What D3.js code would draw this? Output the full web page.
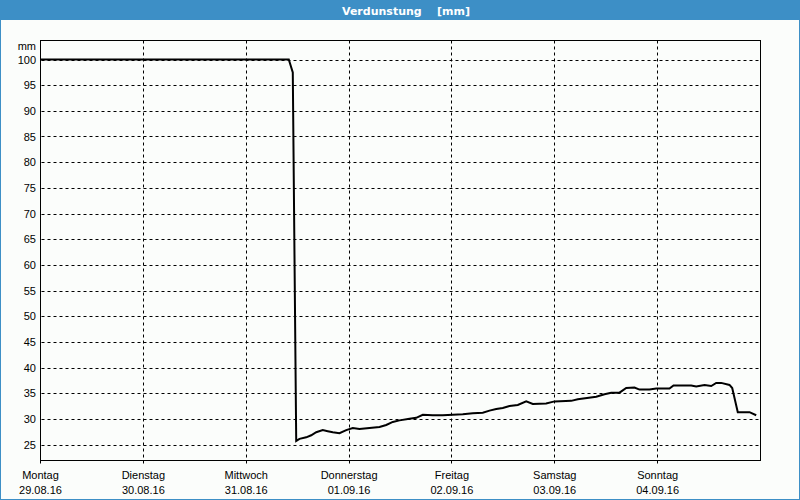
<!DOCTYPE html>
<html>
<head>
<meta charset="utf-8">
<script src="https://cdn.jsdelivr.net/npm/d3@7"></script>
<style>
  html, body { margin: 0; padding: 0; background: #fbfdfb; }
  svg { display: block; }
</style>
</head>
<body>
<svg id="chart" width="800" height="500"></svg>
<script>
// ---------- data ----------
const title = "Verdunstung    [mm]";
const unitLabel = "mm";
const dayNames = ["Montag", "Dienstag", "Mittwoch", "Donnerstag", "Freitag", "Samstag", "Sonntag"];
const dayDates = ["29.08.16", "30.08.16", "31.08.16", "01.09.16", "02.09.16", "03.09.16", "04.09.16"];
const yTicks = [25, 30, 35, 40, 45, 50, 55, 60, 65, 70, 75, 80, 85, 90, 95, 100];

const times = [
  "2016-08-29 00:00", "2016-08-31 09:56", "2016-08-31 10:52", "2016-08-31 11:40",
  "2016-08-31 12:26", "2016-08-31 14:00", "2016-08-31 15:10", "2016-08-31 16:20",
  "2016-08-31 17:52", "2016-08-31 19:02", "2016-08-31 20:12", "2016-08-31 21:46",
  "2016-08-31 23:20", "2016-09-01 00:52", "2016-09-01 02:26", "2016-09-01 04:46",
  "2016-09-01 07:06", "2016-09-01 08:40", "2016-09-01 10:12", "2016-09-01 11:46",
  "2016-09-01 14:06", "2016-09-01 15:40", "2016-09-01 17:12", "2016-09-01 19:32",
  "2016-09-01 21:52", "2016-09-02 00:12", "2016-09-02 02:32", "2016-09-02 04:52",
  "2016-09-02 07:12", "2016-09-02 08:46", "2016-09-02 10:20", "2016-09-02 11:52",
  "2016-09-02 13:26", "2016-09-02 15:22", "2016-09-02 17:20", "2016-09-02 18:52",
  "2016-09-02 21:59", "2016-09-02 23:56", "2016-09-03 03:50", "2016-09-03 05:22",
  "2016-09-03 09:40", "2016-09-03 11:36", "2016-09-03 13:10", "2016-09-03 15:06",
  "2016-09-03 16:40", "2016-09-03 18:36", "2016-09-03 19:46", "2016-09-03 22:06",
  "2016-09-03 23:40", "2016-09-04 02:46", "2016-09-04 03:42", "2016-09-04 07:50",
  "2016-09-04 09:00", "2016-09-04 10:56", "2016-09-04 12:30", "2016-09-04 13:40",
  "2016-09-04 14:50", "2016-09-04 16:46", "2016-09-04 17:24", "2016-09-04 18:42",
  "2016-09-04 21:26", "2016-09-04 23:00"
];
const values = [
  100, 100, 97.5, 25.7,
  26.1, 26.4, 26.8, 27.4,
  27.8, 27.6, 27.4, 27.2,
  27.8, 28.2, 28.0, 28.2,
  28.4, 28.8, 29.4, 29.7,
  30.0, 30.2, 30.8, 30.7,
  30.7, 30.8, 30.9, 31.1,
  31.2, 31.6, 31.9, 32.1,
  32.5, 32.7, 33.4, 32.9,
  33.0, 33.4, 33.5, 33.8,
  34.3, 34.8, 35.1, 35.1,
  36.0, 36.1, 35.7, 35.7,
  35.9, 35.9, 36.5, 36.5,
  36.3, 36.6, 36.4, 37.0,
  37.0, 36.6, 36.0, 31.3,
  31.3, 30.7
];
const startDay = "2016-08-29 00:00";
const endDay = "2016-09-05 00:00";

// ---------- chart ----------
(function () {
const parse = d3.timeParse("%Y-%m-%d %H:%M");
const data = times.map((t, i) => ({ t: parse(t), v: values[i] }));
const dayStarts = d3.timeDay.range(parse(startDay), parse(endDay));

const svg = d3.select("#chart");
const W = 800, H = 500;
const pL = 40.5, pR = 760.5, pT = 40.5, pB = 460.5;

const x = d3.scaleTime().domain([parse(startDay), parse(endDay)]).range([pL, pR]);
const y = d3.scaleLinear().domain([25, 100]).range([444.5, 59.5]);

// background
svg.append("rect").attr("x", 0).attr("y", 0).attr("width", W).attr("height", H).attr("fill", "#fbfdfb");

// title bar
svg.append("rect").attr("x", 0).attr("y", 0).attr("width", W).attr("height", 20).attr("fill", "#3d8fc6");
svg.append("text")
  .attr("x", 406).attr("y", 14.5)
  .attr("text-anchor", "middle")
  .attr("fill", "#ffffff")
  .attr("font-family", "'DejaVu Sans', sans-serif")
  .attr("font-size", 11)
  .attr("font-weight", "bold")
  .style("white-space", "pre")
  .text(title);

// outer border
svg.append("rect").attr("x", 0.5).attr("y", 0.5).attr("width", W - 1).attr("height", H - 1)
  .attr("fill", "none").attr("stroke", "#3d8fc6").attr("stroke-width", 1);

// horizontal gridlines
svg.append("g").selectAll("line").data(yTicks).join("line")
  .attr("x1", pL + 1).attr("x2", pR)
  .attr("y1", d => Math.round(y(d)) + 0.5).attr("y2", d => Math.round(y(d)) + 0.5)
  .attr("stroke", "#000").attr("stroke-width", 1).attr("stroke-dasharray", "3,3");

// vertical gridlines
svg.append("g").selectAll("line").data(dayStarts.slice(1)).join("line")
  .attr("x1", d => Math.round(x(d) - 0.5) + 0.5).attr("x2", d => Math.round(x(d) - 0.5) + 0.5)
  .attr("y1", pT).attr("y2", pB + 3)
  .attr("stroke", "#000").attr("stroke-width", 1).attr("stroke-dasharray", "3,3");

// first-day tick below axis
svg.append("line").attr("x1", pL).attr("x2", pL).attr("y1", pB).attr("y2", pB + 3)
  .attr("stroke", "#000");

// frame
svg.append("rect").attr("x", pL).attr("y", pT).attr("width", pR - pL).attr("height", pB - pT)
  .attr("fill", "none").attr("stroke", "#000").attr("stroke-width", 1);

// y labels
const font = "'Liberation Sans', Arial, sans-serif";
svg.append("g").selectAll("text").data(yTicks).join("text")
  .attr("x", 36).attr("y", d => y(d) + 4)
  .attr("text-anchor", "end")
  .attr("font-family", font).attr("font-size", 11).attr("fill", "#000")
  .text(d => d);
svg.append("text").attr("x", 36).attr("y", 50).attr("text-anchor", "end")
  .attr("font-family", font).attr("font-size", 11).attr("fill", "#000").text(unitLabel);

// x labels
const xl = svg.append("g").selectAll("g").data(dayStarts).join("g");
xl.append("text")
  .attr("x", d => x(d)).attr("y", 479)
  .attr("text-anchor", "middle")
  .attr("font-family", font).attr("font-size", 11).attr("fill", "#000")
  .text((d, i) => dayNames[i]);
xl.append("text")
  .attr("x", d => x(d)).attr("y", 494)
  .attr("text-anchor", "middle")
  .attr("font-family", font).attr("font-size", 11).attr("fill", "#000")
  .text((d, i) => dayDates[i]);

// data line
const line = d3.line().x(d => x(d.t)).y(d => y(d.v));
svg.append("path").datum(data)
  .attr("d", line)
  .attr("fill", "none")
  .attr("stroke", "#000")
  .attr("stroke-width", 2)
  .attr("stroke-linejoin", "miter");
})();
</script>
</body>
</html>
